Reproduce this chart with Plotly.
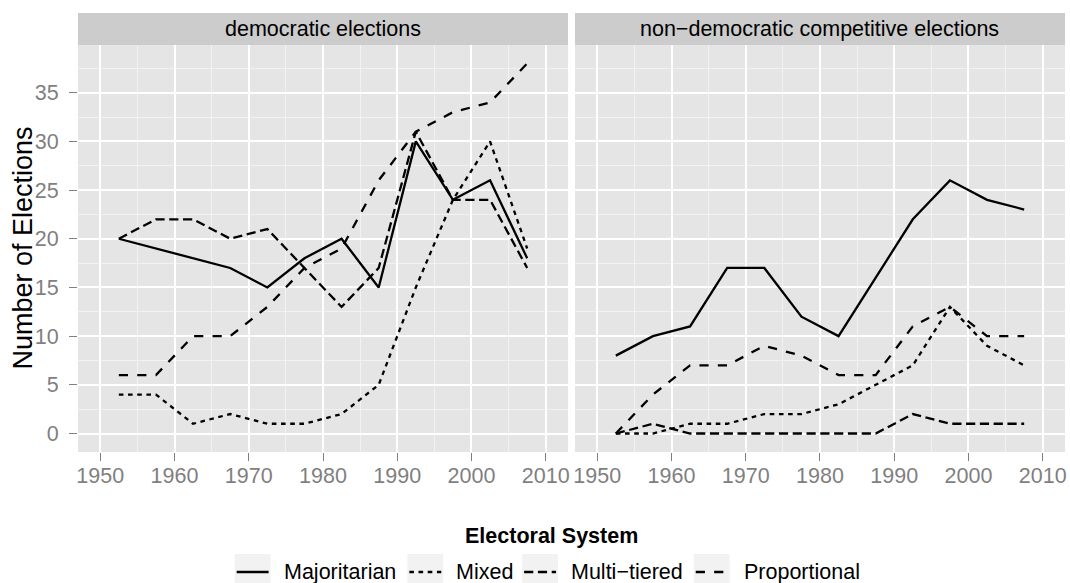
import plotly.graph_objects as go

# Five-year period midpoints
years = [1952.5, 1957.5, 1962.5, 1967.5, 1972.5, 1977.5,
         1982.5, 1987.5, 1992.5, 1997.5, 2002.5, 2007.5]

systems = ["Majoritarian", "Mixed", "Multi\u2212tiered", "Proportional"]

# Democratic elections
dem_majoritarian = [20, 19, 18, 17, 15, 18, 20, 15, 30, 24, 26, 18]
dem_mixed        = [4, 4, 1, 2, 1, 1, 2, 5, 15, 24, 30, 19]
dem_multitiered  = [20, 22, 22, 20, 21, 17, 13, 17, 31, 24, 24, 17]
dem_proportional = [6, 6, 10, 10, 13, 17, 19, 26, 31, 33, 34, 38]

# Non-democratic competitive elections
nd_majoritarian = [8, 10, 11, 17, 17, 12, 10, 16, 22, 26, 24, 23]
nd_mixed        = [0, 0, 1, 1, 2, 2, 3, 5, 7, 13, 9, 7]
nd_multitiered  = [0, 1, 0, 0, 0, 0, 0, 0, 2, 1, 1, 1]
nd_proportional = [0, 4, 7, 7, 9, 8, 6, 6, 11, 13, 10, 10]

panels = ["democratic elections", "non\u2212democratic competitive elections"]

dashes = {
    "Majoritarian": "solid",
    "Mixed": "4.6px,4.6px",
    "Multi\u2212tiered": "9.2px,4.6px",
    "Proportional": "9.2px,9.2px",
}

series = [
    {"Majoritarian": dem_majoritarian, "Mixed": dem_mixed,
     "Multi\u2212tiered": dem_multitiered, "Proportional": dem_proportional},
    {"Majoritarian": nd_majoritarian, "Mixed": nd_mixed,
     "Multi\u2212tiered": nd_multitiered, "Proportional": nd_proportional},
]

FONT = "Liberation Sans, Arial, Helvetica, sans-serif"
W, H = 1070, 583
L, R, T, B = 78, 3, 45, 131
PW = W - L - R          # plotting width
PH = H - T - B          # plotting height
PANEL_W = 491
GAP = 7


def px_x(p):
    return (p - L) / PW


def px_y(p):
    return (H - B - p) / PH


fig = go.Figure()

for i, data in enumerate(series):
    xa = "x" if i == 0 else "x2"
    ya = "y" if i == 0 else "y2"
    for name in systems:
        fig.add_trace(go.Scatter(
            x=years, y=data[name], mode="lines", name=name,
            xaxis=xa, yaxis=ya, showlegend=False,
            line=dict(color="black", width=2.3, dash=dashes[name]),
        ))

axis_common = dict(
    showline=False, zeroline=False,
    ticks="outside", ticklen=8, tickwidth=1.3, tickcolor="#7F7F7F",
    tickfont=dict(family=FONT, size=21.5, color="#7F7F7F"),
    showgrid=True, gridcolor="#FFFFFF", gridwidth=2,
)

xaxis_common = dict(
    axis_common, range=[1947, 2013], tick0=1950, dtick=10,
    ticklabelstandoff=-4,
    minor=dict(tick0=1955, dtick=10, showgrid=True,
               gridcolor="#F2F2F2", gridwidth=1, ticks=""),
)
yaxis_common = dict(
    axis_common, range=[-1.9, 39.9], tick0=0, dtick=5,
    minor=dict(tick0=2.5, dtick=5, showgrid=True,
               gridcolor="#F2F2F2", gridwidth=1, ticks=""),
)

d1 = [0, PANEL_W / PW]
d2 = [(PANEL_W + GAP) / PW, 1]

fig.update_layout(
    width=W, height=H,
    margin=dict(l=L, r=R, t=T, b=B, pad=0),
    paper_bgcolor="white", plot_bgcolor="#E5E5E5",
    font=dict(family=FONT, color="black"),
    xaxis=dict(xaxis_common, domain=d1, anchor="y"),
    xaxis2=dict(xaxis_common, domain=d2, anchor="y2"),
    yaxis=dict(yaxis_common, domain=[0, 1], anchor="x", ticklabelstandoff=6),
    yaxis2=dict(yaxis_common, domain=[0, 1], anchor="x2",
                showticklabels=False, ticks=""),
    showlegend=False,
)

shapes = []
annotations = []

# Facet strips
for i, label in enumerate(panels):
    x0 = d1[0] if i == 0 else d2[0]
    x1 = d1[1] if i == 0 else d2[1]
    shapes.append(dict(type="rect", xref="paper", yref="paper",
                       x0=x0, x1=x1, y0=px_y(45), y1=px_y(13),
                       fillcolor="#CCCCCC", line=dict(width=0), layer="below"))
    annotations.append(dict(text=label, xref="paper", yref="paper",
                            x=(x0 + x1) / 2, y=px_y(29), showarrow=False,
                            xanchor="center", yanchor="middle",
                            font=dict(family=FONT, size=21.5, color="black")))

# Y axis title
annotations.append(dict(text="Number of Elections", xref="paper", yref="paper",
                        x=px_x(22), y=px_y(248.5), textangle=-90,
                        showarrow=False, xanchor="center", yanchor="middle",
                        font=dict(family=FONT, size=27, color="black")))

# Legend title
annotations.append(dict(text="<b>Electoral System</b>", xref="paper", yref="paper",
                        x=px_x(552), y=px_y(536), showarrow=False,
                        xanchor="center", yanchor="middle",
                        font=dict(family=FONT, size=21.5, color="black")))

# Legend keys and labels
key_left = [235, 408, 523, 695]
text_left = [282, 455, 570, 743]
for name, kx, tx in zip(systems, key_left, text_left):
    shapes.append(dict(type="rect", xref="paper", yref="paper",
                       x0=px_x(kx), x1=px_x(kx + 36), y0=px_y(590), y1=px_y(554),
                       fillcolor="#F2F2F2", line=dict(width=0)))
    shapes.append(dict(type="line", xref="paper", yref="paper",
                       x0=px_x(kx + 2), x1=px_x(kx + 34),
                       y0=px_y(572), y1=px_y(572),
                       line=dict(color="black", width=2.3, dash=dashes[name])))
    annotations.append(dict(text=name, xref="paper", yref="paper",
                            x=px_x(tx), y=px_y(572), showarrow=False,
                            xanchor="left", yanchor="middle",
                            font=dict(family=FONT, size=21.5, color="black")))

fig.update_layout(shapes=shapes, annotations=annotations)

fig.write_html("out.html")
